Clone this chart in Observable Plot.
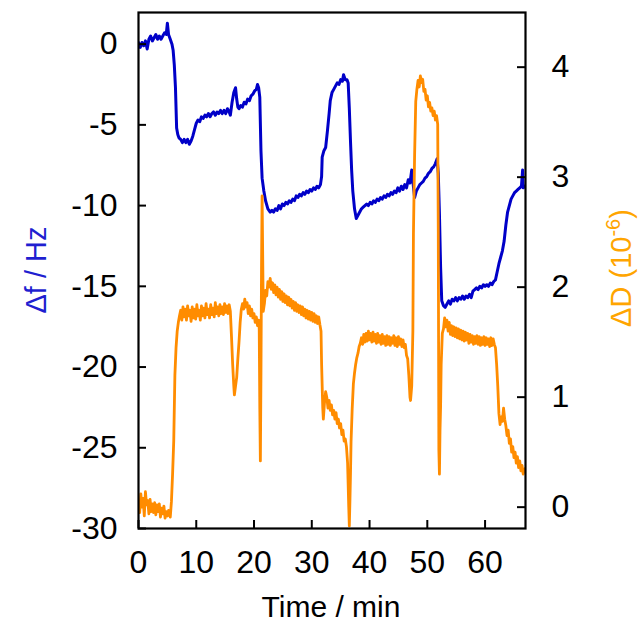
<!DOCTYPE html>
<html><head><meta charset="utf-8">
<script src="https://cdn.jsdelivr.net/npm/d3@7"></script>
<script src="https://cdn.jsdelivr.net/npm/@observablehq/plot@0.6"></script>
<style>body{margin:0;background:#fff} svg{display:block}</style>
</head><body>
<script>
// Frequency shift Δf (Hz) vs time (min)
const timeF = [0.0,0.3,0.6,0.9,1.2,1.5,1.8,2.1,2.4,2.7,3.0,3.3,3.6,3.9,4.2,4.5,4.8,5.0,5.2,5.5,5.8,6.0,6.2,6.4,6.6,6.8,7.0,7.3,7.6,7.9,8.2,8.5,8.8,9.1,9.4,9.7,10.0,10.3,10.6,10.9,11.2,11.5,11.8,12.1,12.4,12.7,13.0,13.3,13.6,13.9,14.2,14.5,14.8,15.1,15.4,15.7,15.9,16.2,16.5,16.8,17.0,17.2,17.4,17.7,18.0,18.3,18.6,18.9,19.2,19.5,19.8,20.1,20.4,20.6,20.8,21.0,21.2,21.4,21.7,22.0,22.4,22.8,23.1,23.4,23.7,24.0,24.3,24.6,24.9,25.2,25.5,25.8,26.1,26.4,26.7,27.0,27.3,27.6,27.9,28.2,28.5,28.8,29.1,29.4,29.7,30.0,30.3,30.6,30.9,31.2,31.5,31.7,31.8,32.1,32.4,32.7,33.0,33.2,33.5,33.8,34.1,34.4,34.7,35.0,35.3,35.5,35.8,36.1,36.3,36.5,36.7,36.9,37.1,37.4,37.7,38.0,38.3,38.6,38.9,39.2,39.5,39.8,40.1,40.4,40.7,41.0,41.3,41.6,41.9,42.2,42.5,42.8,43.1,43.4,43.7,44.0,44.3,44.6,44.9,45.2,45.5,45.8,46.1,46.4,46.7,47.0,47.3,47.5,47.8,48.1,48.4,48.7,49.0,49.3,49.6,49.9,50.2,50.5,50.8,51.1,51.4,51.7,51.9,52.1,52.3,52.5,52.8,53.1,53.4,53.7,54.0,54.3,54.6,54.9,55.2,55.5,55.8,56.1,56.4,56.7,57.0,57.3,57.6,57.9,58.2,58.5,58.8,59.1,59.4,59.7,60.0,60.3,60.6,60.9,61.2,61.5,61.8,62.1,62.4,62.7,63.0,63.3,63.6,63.9,64.2,64.5,64.8,65.1,65.4,65.7,66.0,66.3,66.5,66.6,66.9];
const deltaF = [0.1,-0.2,0.1,-0.1,0.2,-0.3,0.3,0.5,0.2,0.4,0.6,0.3,0.5,0.3,0.5,0.7,0.6,1.3,0.6,0.3,0.0,-0.4,-1.3,-2.7,-5.2,-5.6,-5.8,-5.9,-6.1,-5.9,-6.1,-5.9,-6.2,-6.0,-5.7,-5.3,-4.9,-4.7,-4.8,-4.5,-4.6,-4.4,-4.5,-4.3,-4.5,-4.3,-4.2,-4.4,-4.2,-4.3,-4.1,-4.3,-4.1,-4.3,-4.0,-4.2,-4.4,-3.6,-3.0,-2.7,-3.4,-3.9,-4.0,-3.8,-3.9,-3.6,-3.7,-3.4,-3.5,-3.2,-3.1,-2.9,-2.8,-2.5,-2.7,-3.3,-6.6,-8.3,-9.1,-9.7,-10.2,-10.4,-10.3,-10.4,-10.2,-10.3,-10.0,-10.2,-9.9,-10.0,-9.8,-9.9,-9.7,-9.8,-9.6,-9.7,-9.4,-9.5,-9.3,-9.4,-9.2,-9.3,-9.1,-9.2,-9.0,-9.1,-8.9,-9.0,-8.8,-8.9,-8.7,-8.2,-7.0,-6.6,-6.4,-5.4,-4.3,-3.5,-3.0,-2.8,-2.6,-2.4,-2.5,-2.2,-2.3,-1.9,-2.2,-2.2,-2.4,-4.0,-6.0,-7.8,-9.1,-10.2,-10.8,-10.6,-10.4,-10.2,-10.1,-10.0,-9.9,-10.0,-9.8,-9.9,-9.7,-9.8,-9.6,-9.7,-9.5,-9.6,-9.4,-9.5,-9.3,-9.4,-9.2,-9.3,-9.1,-9.2,-8.9,-9.1,-8.8,-9.0,-8.7,-8.9,-8.4,-8.6,-7.8,-8.5,-9.5,-9.1,-8.9,-8.7,-8.6,-8.5,-8.3,-8.2,-8.0,-7.9,-7.7,-7.6,-7.4,-7.1,-8.0,-10.5,-13.8,-15.9,-16.2,-16.3,-16.1,-15.9,-16.1,-15.8,-15.9,-15.7,-15.9,-15.7,-15.8,-15.6,-15.8,-15.6,-15.7,-15.5,-15.7,-15.3,-15.2,-15.1,-15.2,-15.0,-15.1,-14.9,-15.0,-14.9,-15.0,-14.8,-14.9,-14.7,-14.6,-14.1,-13.6,-13.2,-12.8,-12.2,-11.2,-10.4,-10.0,-9.6,-9.4,-9.2,-9.1,-9.0,-8.9,-8.8,-7.8,-8.9,-8.8];

// Dissipation shift ΔD (10^-6) vs time (min)
const timeD = [0.0,0.2,0.4,0.6,0.8,1.0,1.2,1.4,1.6,1.8,2.0,2.2,2.4,2.6,2.8,3.0,3.2,3.4,3.6,3.8,4.0,4.2,4.4,4.6,4.8,5.0,5.2,5.5,5.7,5.9,6.1,6.3,6.5,6.7,6.9,7.1,7.3,7.5,7.7,7.9,8.1,8.3,8.5,8.7,8.9,9.1,9.3,9.5,9.7,9.9,10.1,10.3,10.5,10.7,10.9,11.1,11.3,11.5,11.7,11.9,12.1,12.3,12.5,12.7,12.9,13.1,13.3,13.5,13.7,13.9,14.1,14.3,14.5,14.7,14.9,15.1,15.3,15.5,15.7,15.9,16.1,16.3,16.5,16.6,16.8,17.0,17.2,17.4,17.6,17.8,18.0,18.2,18.4,18.6,18.8,19.0,19.2,19.4,19.6,19.8,20.0,20.2,20.4,20.6,20.8,20.9,21.0,21.1,21.2,21.3,21.4,21.5,21.6,21.8,22.0,22.2,22.4,22.6,22.8,23.0,23.2,23.4,23.6,23.8,24.0,24.2,24.4,24.6,24.8,25.0,25.2,25.4,25.6,25.8,26.0,26.2,26.4,26.6,26.8,27.0,27.2,27.4,27.6,27.8,28.0,28.2,28.4,28.6,28.8,29.0,29.2,29.4,29.6,29.8,30.0,30.2,30.4,30.6,30.8,31.0,31.2,31.4,31.6,31.7,31.8,31.9,32.0,32.2,32.4,32.6,32.8,33.0,33.2,33.4,33.6,33.8,34.0,34.2,34.4,34.6,34.8,35.0,35.2,35.4,35.6,35.8,36.0,36.2,36.3,36.4,36.5,36.6,36.7,36.8,37.0,37.2,37.4,37.6,37.8,38.0,38.2,38.4,38.6,38.8,39.0,39.2,39.4,39.6,39.8,40.0,40.2,40.4,40.6,40.8,41.0,41.2,41.4,41.6,41.8,42.0,42.2,42.4,42.6,42.8,43.0,43.2,43.4,43.6,43.8,44.0,44.2,44.4,44.6,44.8,45.0,45.2,45.4,45.6,45.8,46.0,46.2,46.4,46.6,46.8,47.0,47.1,47.3,47.5,47.6,47.8,48.0,48.2,48.4,48.6,48.8,49.0,49.2,49.4,49.6,49.8,50.0,50.2,50.4,50.6,50.8,51.0,51.2,51.4,51.6,51.8,51.9,52.0,52.1,52.2,52.3,52.4,52.6,52.8,53.0,53.2,53.4,53.6,53.8,54.0,54.2,54.4,54.6,54.8,55.0,55.2,55.4,55.6,55.8,56.0,56.2,56.4,56.6,56.8,57.0,57.2,57.4,57.6,57.8,58.0,58.2,58.4,58.6,58.8,59.0,59.2,59.4,59.6,59.8,60.0,60.2,60.4,60.6,60.8,61.0,61.2,61.4,61.6,61.8,62.0,62.2,62.4,62.6,62.8,63.0,63.2,63.4,63.6,63.8,64.0,64.2,64.4,64.6,64.8,65.0,65.2,65.4,65.6,65.8,66.0,66.2,66.4,66.6,66.9];
const deltaD = [0.05,-0.05,0.12,0.00,0.08,-0.08,0.14,0.02,0.06,-0.06,0.07,-0.04,0.03,-0.05,0.04,-0.07,0.02,-0.04,0.03,-0.09,-0.01,-0.06,0.01,-0.10,-0.04,-0.08,-0.03,-0.09,0.05,0.30,0.60,1.20,1.45,1.60,1.68,1.74,1.79,1.70,1.82,1.73,1.80,1.70,1.83,1.74,1.79,1.69,1.82,1.72,1.80,1.71,1.84,1.74,1.79,1.70,1.83,1.74,1.81,1.72,1.85,1.75,1.80,1.72,1.84,1.75,1.81,1.73,1.86,1.76,1.82,1.74,1.84,1.76,1.82,1.75,1.85,1.77,1.83,1.76,1.84,1.78,1.55,1.30,1.10,1.02,1.10,1.18,1.35,1.50,1.68,1.80,1.85,1.80,1.89,1.82,1.86,1.76,1.83,1.74,1.80,1.72,1.76,1.68,1.73,1.65,1.70,1.62,0.90,0.42,1.20,2.20,2.83,2.30,1.78,1.85,1.97,1.92,2.05,2.00,2.08,1.98,2.04,1.95,2.02,1.93,2.00,1.91,1.98,1.89,1.96,1.87,1.94,1.86,1.92,1.84,1.91,1.83,1.89,1.81,1.87,1.79,1.86,1.78,1.84,1.77,1.83,1.75,1.82,1.74,1.80,1.72,1.79,1.71,1.78,1.70,1.77,1.69,1.76,1.68,1.74,1.67,1.73,1.66,1.60,1.30,1.10,0.90,0.80,0.95,1.05,1.00,0.90,0.97,0.88,0.93,0.84,0.88,0.80,0.86,0.76,0.80,0.72,0.76,0.66,0.70,0.60,0.62,0.55,0.40,0.20,0.00,-0.17,0.05,0.30,0.60,0.90,1.12,1.22,1.30,1.36,1.40,1.46,1.49,1.54,1.48,1.57,1.50,1.58,1.51,1.60,1.52,1.58,1.50,1.59,1.51,1.57,1.49,1.58,1.50,1.56,1.48,1.57,1.49,1.55,1.47,1.56,1.48,1.55,1.47,1.54,1.49,1.56,1.47,1.54,1.46,1.55,1.48,1.53,1.46,1.52,1.45,1.48,1.38,1.35,1.20,1.00,0.97,1.10,1.60,2.49,3.20,3.69,3.80,3.88,3.82,3.92,3.86,3.89,3.78,3.80,3.70,3.74,3.64,3.68,3.60,3.63,3.56,3.60,3.52,3.56,3.48,2.50,0.52,0.30,0.70,0.91,1.30,1.58,1.62,1.72,1.64,1.70,1.60,1.68,1.57,1.65,1.56,1.64,1.55,1.63,1.54,1.62,1.53,1.61,1.52,1.60,1.51,1.59,1.52,1.58,1.49,1.57,1.50,1.56,1.48,1.55,1.49,1.56,1.48,1.55,1.47,1.54,1.48,1.55,1.47,1.54,1.48,1.53,1.46,1.54,1.47,1.53,1.48,1.45,1.30,1.10,0.85,0.75,0.82,0.78,0.90,0.80,0.74,0.65,0.70,0.58,0.62,0.50,0.55,0.45,0.50,0.40,0.46,0.36,0.42,0.33,0.38,0.30,0.35];

const xTicks = [0, 10, 20, 30, 40, 50, 60];
const fTicks = [0, -5, -10, -15, -20, -25, -30];
const dTicks = [0, 1, 2, 3, 4];
const xDomain = [0, 67];
const fDomain = [-30, 1.96];
const dDomain = [-0.194, 4.497];

// map ΔD onto the Δf (left) scale so both share one y scale
const k = (fDomain[1] - fDomain[0]) / (dDomain[1] - dDomain[0]);
const dToF = d => fDomain[0] + (d - dDomain[0]) * k;
const fToD = f => (f - fDomain[0]) / k + dDomain[0];

const fData = timeF.map((t, i) => ({t, v: deltaF[i]}));
const dData = timeD.map((t, i) => ({t, v: dToF(deltaD[i])}));

const W = 638, H = 622, mL = 138, mR = 113, mT = 12, mB = 94;
const frameW = W - mL - mR, frameH = H - mT - mB;
const tickLen = 8;
const font = "'Liberation Sans', Arial, Helvetica, sans-serif";

const svg = Plot.plot({
  width: W, height: H,
  marginLeft: mL, marginRight: mR, marginTop: mT, marginBottom: mB,
  style: {fontFamily: font, background: "#fff", color: "#000"},
  x: {domain: xDomain},
  y: {domain: fDomain},
  marks: [
    Plot.line(fData, {x: "t", y: "v", stroke: "#0000c8", strokeWidth: 3, clip: true}),
    Plot.line(dData, {x: "t", y: "v", stroke: "#ff8c00", strokeWidth: 2.8, clip: true}),
    Plot.ruleX(xTicks, {x: d => d, insetTop: frameH - tickLen, stroke: "#000", strokeWidth: 2}),
    Plot.ruleY(fTicks, {y: d => d, insetRight: frameW - tickLen, stroke: "#000", strokeWidth: 2}),
    Plot.ruleY(dTicks.map(dToF), {y: d => d, insetLeft: frameW - tickLen, stroke: "#000", strokeWidth: 2}),
    Plot.axisX(xTicks, {tickSize: 0, tickPadding: 22, fontSize: 32, label: null, tickFormat: d => String(d)}),
    Plot.axisY(fTicks, {anchor: "left", tickSize: 0, tickPadding: 21, fontSize: 32, label: null, tickFormat: d => String(d)}),
    Plot.axisY(dTicks.map(dToF), {anchor: "right", tickSize: 0, tickPadding: 26, fontSize: 32, label: null,
      tickFormat: v => String(Math.round(fToD(v)))}),
    Plot.frame({stroke: "#000", strokeWidth: 2.2})
  ]
});

const s = d3.select(svg);
s.append("text")
  .attr("x", 331).attr("y", 617)
  .attr("text-anchor", "middle")
  .attr("font-family", font).attr("font-size", 30).attr("fill", "#000")
  .text("Time / min");
s.append("text")
  .attr("transform", "translate(46,270) rotate(-90)")
  .attr("text-anchor", "middle")
  .attr("font-family", font).attr("font-size", 29).attr("fill", "#1f1fd0")
  .text("Δf / Hz");
const r = s.append("text")
  .attr("transform", "translate(631,268) rotate(-90)")
  .attr("text-anchor", "middle")
  .attr("font-family", font).attr("font-size", 29).attr("fill", "#ffa500");
r.append("tspan").text("ΔD (10");
r.append("tspan").attr("font-size", 20).attr("dy", -11).text("-6");
r.append("tspan").attr("dy", 11).text(")");

document.body.appendChild(svg);
</script>
</body></html>
